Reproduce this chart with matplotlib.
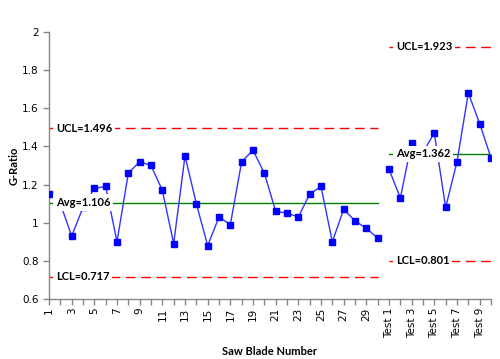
import matplotlib
matplotlib.use("Agg")
import matplotlib.pyplot as plt
import numpy as np

categories = [str(i) for i in range(1, 31)] + [f"Test {i}" for i in range(1, 11)]
blade_values = [1.15, 1.10, 0.93, 1.08, 1.18, 1.19, 0.90, 1.26, 1.32, 1.30,
                1.17, 0.89, 1.35, 1.10, 0.88, 1.03, 0.99, 1.32, 1.38, 1.26,
                1.06, 1.05, 1.03, 1.15, 1.19, 0.90, 1.07, 1.01, 0.97, 0.92]
test_values = [1.28, 1.13, 1.42, 1.37, 1.47, 1.08, 1.32, 1.68, 1.52, 1.34]
limits_1 = {"UCL": 1.496, "Avg": 1.106, "LCL": 0.717}
limits_2 = {"UCL": 1.923, "Avg": 1.362, "LCL": 0.801}
y_ticks = [0.6, 0.8, 1.0, 1.2, 1.4, 1.6, 1.8, 2.0]
y_tick_labels = ["0.6", "0.8", "1", "1.2", "1.4", "1.6", "1.8", "2"]

fig = plt.figure(figsize=(5.0, 3.59), dpi=100)
ax = fig.add_axes([0.098, 0.1671, 0.884, 0.7438])

x1 = np.arange(len(blade_values))
x2 = np.arange(len(blade_values), len(blade_values) + len(test_values))

label_font = dict(family=["Lato", "DejaVu Sans"], fontsize=8, fontweight="bold")

def draw_limits(xs, lim):
    x0, x1_ = xs[0], xs[-1]
    for key, col, ls in [("UCL", "#FF0000", (0, (7, 4))), ("Avg", "#008000", "-"), ("LCL", "#FF0000", (0, (7, 4)))]:
        ax.plot([x0, x1_], [lim[key], lim[key]], color=col, lw=1, linestyle=ls, zorder=1)
        ax.text(x0 + 0.6, lim[key], f"{key}={lim[key]:.3f}", ha="left", va="center",
                bbox=dict(facecolor="white", edgecolor="none", pad=1.8), zorder=6, **label_font)

draw_limits(x1, limits_1)
draw_limits(x2, limits_2)

for xs, vals in [(x1, blade_values), (x2, test_values)]:
    ax.plot(xs, vals, color="#3333FF", lw=1, zorder=2)
    ax.plot(xs, vals, linestyle="none", marker="s", markersize=4.6, color="#0000FF", zorder=3)

ax.set_xlim(0, len(categories) - 1)
ax.set_ylim(0.6, 2.0)
ax.set_yticks(y_ticks)
ax.set_yticklabels(y_tick_labels)
ax.set_xticks(np.arange(len(categories)))
ax.set_xticklabels([c if i % 2 == 0 else "" for i, c in enumerate(categories)], rotation=90)

for s in ["top", "right"]:
    ax.spines[s].set_visible(False)
for s in ["left", "bottom"]:
    ax.spines[s].set_color("#868686")
    ax.spines[s].set_linewidth(1)
ax.tick_params(axis="both", direction="out", length=4, width=1, color="#868686",
               labelsize=7.5, labelcolor="black")
ax.tick_params(axis="x", pad=2)
for lbl in ax.get_xticklabels() + ax.get_yticklabels():
    lbl.set_family(["DejaVu Sans"])

ax.set_ylabel("G-Ratio", fontsize=8, fontweight="bold", family=["Lato", "DejaVu Sans"], labelpad=2)
ax.set_xlabel("Saw Blade Number", fontsize=8, fontweight="bold", family=["Lato", "DejaVu Sans"], labelpad=6)

fig.savefig("out.png", dpi=100)
